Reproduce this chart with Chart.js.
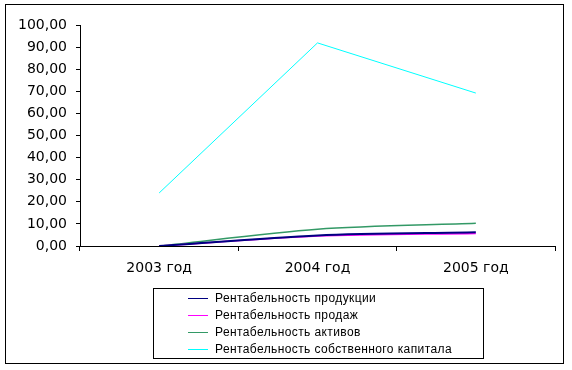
<!DOCTYPE html>
<html>
<head>
<meta charset="utf-8">
<script src="https://cdn.jsdelivr.net/npm/chart.js@4"></script>
<style>
  body { margin: 0; background: #fff; }
  #wrap { position: relative; width: 572px; height: 370px; }
  #frame { position: absolute; left: 5px; top: 4px; width: 559px; height: 360px; border: 1px solid #000; box-sizing: border-box; }
  #legend { position: absolute; left: 153px; top: 288px; width: 331px; height: 71px; border: 1px solid #000; box-sizing: border-box;
    font: 12px "Liberation Sans", Arial, sans-serif; letter-spacing: 0.4px; padding-top: 1px; }
  #legend div { height: 17px; line-height: 17px; white-space: nowrap; }
  #legend span.l { display: inline-block; width: 20px; height: 0; vertical-align: middle; margin-left: 34px; margin-right: 7px; }
</style>
</head>
<body>
<div id="wrap">
  <canvas id="lineChart" width="572" height="370"></canvas>
  <div id="frame"></div>
  <div id="legend"></div>
</div>
<script>
const years = ['2003 год', '2004 год', '2005 год']
const prodRent = [0, 4.8, 6.2]
const salesRent = [0, 4.5, 5.7]
const assetsRent = [0, 7.6, 10.3]
const equityRent = [24.0, 91.9, 69.2]

const seriesNames = [
  'Рентабельность продукции',
  'Рентабельность продаж',
  'Рентабельность активов',
  'Рентабельность собственного капитала'
]
const colors = ['#000080', '#FF00FF', '#339966', '#00FFFF']

let ctx = document.getElementById('lineChart')
let lineChart = new Chart(ctx, {
  type: 'line',
  data: {
    labels: years,
    datasets: [
      { label: seriesNames[0], data: prodRent, borderColor: colors[0], borderWidth: 2, tension: 0.3 },
      { label: seriesNames[1], data: salesRent, borderColor: colors[1], borderWidth: 1.5, tension: 0.3 },
      { label: seriesNames[2], data: assetsRent, borderColor: colors[2], borderWidth: 1.5, tension: 0.3 },
      { label: seriesNames[3], data: equityRent, borderColor: colors[3], borderWidth: 1 }
    ]
  },
  options: {
    responsive: false,
    animation: false,
    layout: { padding: { left: 0, top: 25, right: 17, bottom: 0 } },
    elements: { point: { radius: 0 } },
    plugins: { legend: { display: false }, tooltip: { enabled: false } },
    scales: {
      x: {
        offset: true,
        grid: { offset: true, drawOnChartArea: false, drawTicks: true, tickLength: 5, color: '#000' },
        border: { color: '#000', width: 1 },
        ticks: { color: '#000', font: { family: 'DejaVu Sans', size: 14 }, padding: 9 },
        afterFit: s => { s.height = 124 }
      },
      y: {
        min: 0,
        max: 100,
        grid: { drawOnChartArea: false, drawTicks: true, tickLength: 4, color: '#000' },
        border: { color: '#000', width: 1 },
        ticks: {
          stepSize: 10,
          color: '#000',
          font: { family: 'DejaVu Sans', size: 14 },
          padding: 9,
          callback: v => v.toFixed(2).replace('.', ',')
        },
        afterFit: s => { s.width = 80 }
      }
    }
  }
})

let legend = document.getElementById('legend')
lineChart.data.datasets.forEach((ds, k) => {
  let row = document.createElement('div')
  row.innerHTML = '<span class="l" style="border-top:1px solid ' + colors[k] + '"></span>' + ds.label
  legend.appendChild(row)
})
</script>
</body>
</html>
